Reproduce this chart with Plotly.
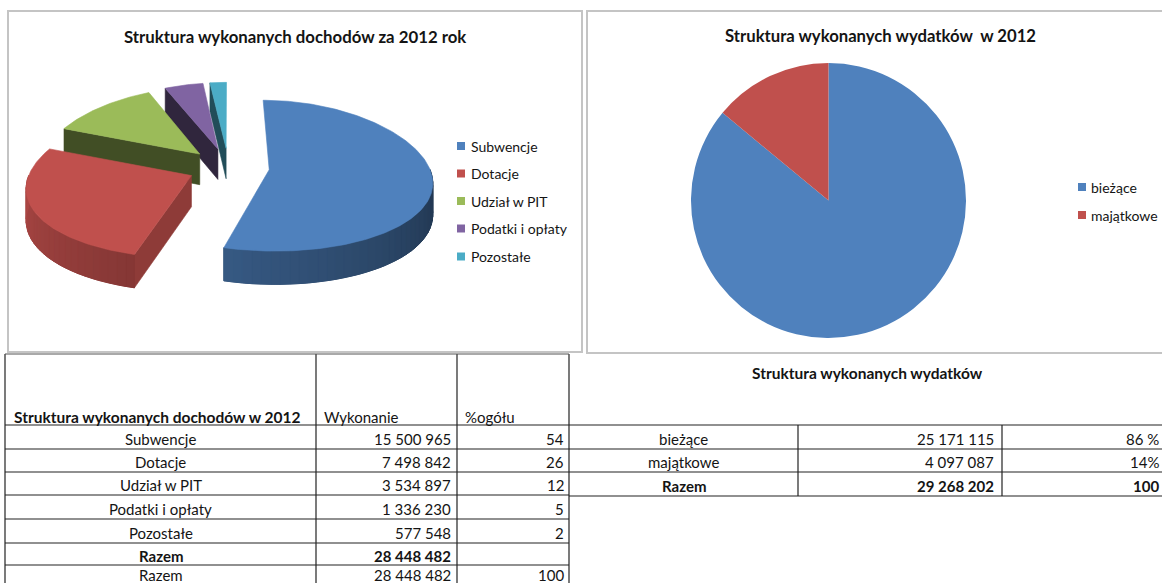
import numpy as np
import plotly.graph_objects as go

# ---------------- data ----------------
inc_title = "Struktura wykonanych dochodów za 2012 rok"
inc_labels = ["Subwencje", "Dotacje", "Udział w PIT", "Podatki i opłaty", "Pozostałe"]
inc_values = [15500965, 7498842, 3534897, 1336230, 577548]
inc_pct = [54, 26, 12, 5, 2]
inc_total = 28448482
inc_total_pct = 100

exp_title = "Struktura wykonanych wydatków  w 2012"
exp_labels = ["bieżące", "majątkowe"]
exp_values = [25171115, 4097087]
exp_pct_text = ["86 %", "14%"]
exp_total = 29268202
exp_total_pct = "100"

tbl1_headers = ["Struktura wykonanych dochodów w 2012", "Wykonanie", "%ogółu"]
tbl2_header = "Struktura wykonanych wydatków"
total_label = "Razem"

# ---------------- styles ----------------
inc_colors = ["#4F81BD", "#C0504D", "#9BBB59", "#8064A2", "#4BACC6"]
face_shade = [0.5, 0.74, 0.42, 0.38, 0.45]
exp_colors = ["#4F81BD", "#C0504D"]
FONT = "Lato"
TXT = "#141414"

W, H_FIG = 1162, 583


def fmt(v):
    return f"{v:,}".replace(",", " ")


def shade(hexcol, f):
    h = hexcol.lstrip("#")
    r, g, b = (int(h[i:i + 2], 16) for i in (0, 2, 4))
    return "rgb(%d,%d,%d)" % (int(r * f), int(g * f), int(b * f))


fig = go.Figure()

# ---------------- 3D exploded pie (left) ----------------
CX, CY, RX, RY = 228.6, 167.0, 160.0, 75.0
PY, QX = 0.08, 0.15
THICK = 31.0
EXPL = 0.255


def proj(u, v, down=False):
    x = CX + RX * u * (1 + QX * v)
    y = CY + RY * v * (1 + PY * v)
    if down:
        y = y + THICK * (1 + 0.07 * v)
    return x, y


vals = np.array(inc_values, dtype=float)
cum = np.concatenate([[0], np.cumsum(vals)]) / vals.sum() * 360.0
slices = []
for i in range(len(vals)):
    a, b = cum[i], cum[i + 1]
    m = np.radians((a + b) / 2)
    du, dv = EXPL * np.sin(m), -EXPL * np.cos(m)
    slices.append((i, a, b, du, dv))

order = sorted(slices, key=lambda s: s[4])


def poly(xs, ys, color, lw=0.6):
    fig.add_trace(go.Scatter(x=list(xs), y=list(ys), mode="lines", fill="toself",
                             fillcolor=color, line=dict(color=color, width=lw),
                             hoverinfo="skip", showlegend=False))


for (i, a, b, du, dv) in order:
    base = inc_colors[i]
    # radial faces that face the viewer
    for ang, vis in ((a, np.sin(np.radians(a)) < -1e-6), (b, np.sin(np.radians(b)) > 1e-6)):
        if vis and (b - a) < 359:
            t = np.radians(ang)
            ru, rv = du + np.sin(t), dv - np.cos(t)
            p1 = proj(du, dv)
            p2 = proj(ru, rv)
            p3 = proj(ru, rv, True)
            p4 = proj(du, dv, True)
            poly([p1[0], p2[0], p3[0], p4[0], p1[0]], [p1[1], p2[1], p3[1], p4[1], p1[1]],
                 shade(base, face_shade[i]))
    # curved front wall
    lo, hi = max(a, 90.0), min(b, 270.0)
    if hi > lo:
        # underlay for the whole wall (hides seams between gradient strips)
        tt = np.radians(np.linspace(lo, hi, 60))
        u = du + np.sin(tt)
        v = dv - np.cos(tt)
        xt, yt = proj(u, v)
        xb, yb = proj(u, v, True)
        fmid = 0.40 + 0.50 * ((lo + hi) / 2 - 90.0) / 180.0
        poly(np.concatenate([xt, xb[::-1], xt[:1]]), np.concatenate([yt, yb[::-1], yt[:1]]),
             shade(base, fmid))
        n = max(2, int((hi - lo) / 3) + 1)
        th = np.linspace(lo, hi, n + 1)
        for k in range(n):
            t0, t1 = np.radians(th[k]), np.radians(th[k + 1])
            tt = np.linspace(t0, t1, 4)
            u = du + np.sin(tt)
            v = dv - np.cos(tt)
            xt, yt = proj(u, v)
            xb, yb = proj(u, v, True)
            mid = (th[k] + th[k + 1]) / 2
            f = 0.40 + 0.50 * (mid - 90.0) / 180.0
            poly(np.concatenate([xt, xb[::-1], xt[:1]]), np.concatenate([yt, yb[::-1], yt[:1]]),
                 shade(base, f), lw=1.0)
    # top face
    tt = np.radians(np.linspace(a, b, max(8, int(b - a) + 2)))
    u = np.concatenate([[du], du + np.sin(tt), [du]])
    v = np.concatenate([[dv], dv - np.cos(tt), [dv]])
    xt, yt = proj(u, v)
    poly(xt, yt, base)

# ---------------- flat pie (right) ----------------
PCX, PCY, PR = 828.5, 200.5, 137.5
fig.add_trace(go.Pie(values=exp_values, labels=exp_labels, sort=False, direction="clockwise",
                     rotation=0, marker=dict(colors=exp_colors, line=dict(width=0)),
                     textinfo="none", hoverinfo="label+value", showlegend=False,
                     domain=dict(x=[(PCX - PR) / W, (PCX + PR) / W],
                                 y=[1 - (PCY + PR) / H_FIG, 1 - (PCY - PR) / H_FIG])))

shapes = []
ann = []


def text(x, y, s, anchor="center", bold=False, size=15, color=TXT):
    ann.append(dict(x=x, y=y, xref="x", yref="y", text=("<b>%s</b>" % s) if bold else s,
                    showarrow=False, xanchor=anchor, yanchor="middle",
                    font=dict(family=FONT, size=size, color=color)))


def line(x0, y0, x1, y1, color="#222222", w=1.2):
    shapes.append(dict(type="line", xref="x", yref="y", x0=x0, y0=y0, x1=x1, y1=y1,
                       line=dict(color=color, width=w)))


# chart boxes
shapes.append(dict(type="rect", xref="x", yref="y", x0=8, y0=11, x1=582, y1=352,
                   line=dict(color="#c4c4c4", width=2), layer="below"))
shapes.append(dict(type="rect", xref="x", yref="y", x0=587, y0=11, x1=1175, y1=353,
                   line=dict(color="#c4c4c4", width=2), layer="below"))

# titles
text(295, 36, inc_title, bold=True, size=16.8)
text(880, 36, exp_title, bold=True, size=16.7)

# legends
leg1_y = [146, 173.5, 201, 228.5, 256.5]
for lab, col, y in zip(inc_labels, inc_colors, leg1_y):
    shapes.append(dict(type="rect", xref="x", yref="y", x0=457, x1=465, y0=y - 4, y1=y + 4,
                       fillcolor=col, line=dict(width=0)))
    text(469, y, lab, anchor="left", size=14)
leg2_y = [187, 215]
for lab, col, y in zip(exp_labels, exp_colors, leg2_y):
    shapes.append(dict(type="rect", xref="x", yref="y", x0=1078, x1=1086, y0=y - 4, y1=y + 4,
                       fillcolor=col, line=dict(width=0)))
    text(1089, y, lab, anchor="left", size=14)

# ---------------- left table ----------------
L_COLS = [5, 316, 457, 569]
TOP, HEAD_B = 354, 425
ROW_Y = [425, 449, 472, 495, 519, 543, 565, 588]
for x in L_COLS:
    line(x, TOP, x, 583)
line(5, TOP, 569, TOP, color="#555555")
for y in ROW_Y[:-1]:
    line(5, y, 569, y)

text(12, 417, tbl1_headers[0], anchor="left", bold=True, size=15.5)
text(322, 417, tbl1_headers[1], anchor="left")
text(463, 417, tbl1_headers[2], anchor="left")

rows = [(l, fmt(v), str(p), False) for l, v, p in zip(inc_labels, inc_values, inc_pct)]
rows.append((total_label, fmt(inc_total), "", True))
rows.append((total_label, fmt(inc_total), str(inc_total_pct), False))
for k, (lab, val, pct, bold) in enumerate(rows):
    yc = (ROW_Y[k] + ROW_Y[k + 1]) / 2 + 1.5
    if k == len(rows) - 1:
        yc = 575
    text(160.5, yc, lab, bold=bold)
    text(453, yc, val, anchor="right", bold=bold)
    if pct:
        text(566, yc, pct, anchor="right", bold=bold)

# ---------------- right table ----------------
R_ROW_Y = [425, 449, 472, 496]
for y in R_ROW_Y:
    line(569, y, 1162, y)
for x in (798, 1002):
    line(x, 425, x, 496)
text(867, 373, tbl2_header, bold=True, size=15.5)
rrows = [(l, fmt(v), p, False) for l, v, p in zip(exp_labels, exp_values, exp_pct_text)]
rrows.append((total_label, fmt(exp_total), exp_total_pct, True))
for k, (lab, val, pct, bold) in enumerate(rrows):
    yc = (R_ROW_Y[k] + R_ROW_Y[k + 1]) / 2 + 1.5
    text(683.5, yc, lab, bold=bold)
    text(996, yc, val, anchor="right", bold=bold)
    text(1161, yc, pct, anchor="right", bold=bold)

fig.update_layout(
    width=W, height=H_FIG, margin=dict(l=0, r=0, t=0, b=0),
    paper_bgcolor="white", plot_bgcolor="white",
    xaxis=dict(range=[0, W], domain=[0, 1], visible=False, fixedrange=True),
    yaxis=dict(range=[H_FIG, 0], domain=[0, 1], visible=False, fixedrange=True),
    shapes=shapes, annotations=ann, showlegend=False,
)

fig.write_html(
    "out.html",
    config={"displayModeBar": False},
    post_script="document.body.style.margin='0';document.body.style.overflow='hidden';"
                "document.documentElement.style.overflow='hidden';",
)
